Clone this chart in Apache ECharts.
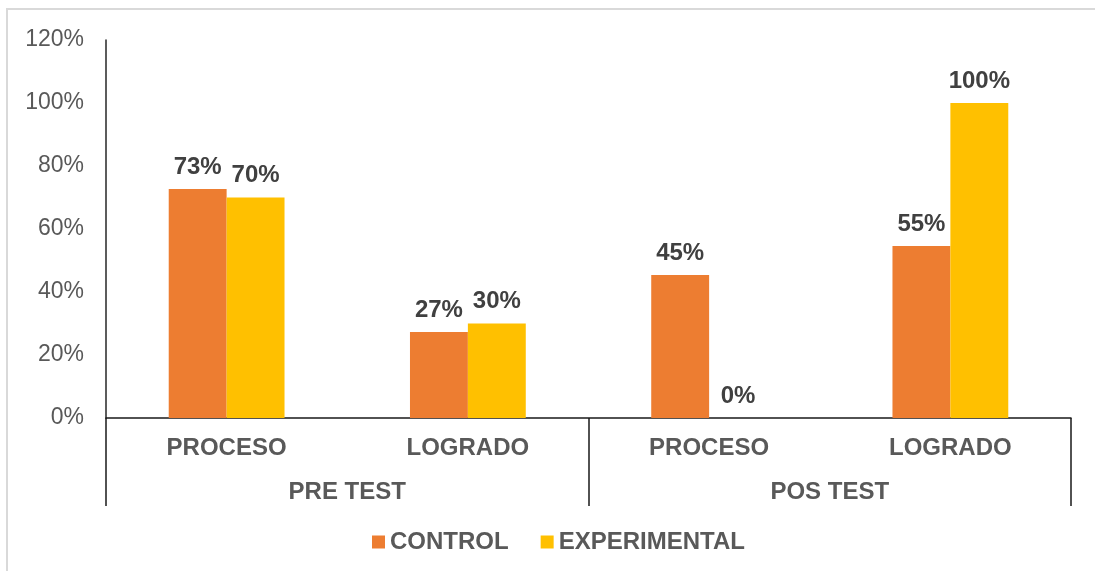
<html>
<head>
<meta charset="utf-8">
<script src="https://cdn.jsdelivr.net/npm/echarts@6/dist/echarts.min.js"></script>
</head>
<body style="margin:0">
<div id="chart" style="width:1095px;height:571px;"></div>
<script type="text/javascript">

// values (fractions)
var fases = ['PROCESO', 'LOGRADO', 'PROCESO', 'LOGRADO'];
var grupos = ['PRE TEST', 'POS TEST'];
var control = [0.727, 0.273, 0.454, 0.546];
var experimental = [0.70, 0.30, 0, 1.00];
var yTicks = [0, 0.2, 0.4, 0.6, 0.8, 1.0, 1.2];

var font = "'Liberation Sans', Arial, sans-serif";
var chart = echarts.init(document.getElementById('chart'));

function pct(v) {
  return Math.round(v * 100) + '%';
}

var barLabel = {
  show: true,
  position: 'top',
  distance: 10,
  color: '#404040',
  fontFamily: font,
  fontWeight: 'bold',
  fontSize: 24,
  formatter: function (p) { return pct(p.value); }
};

var option = {
  animation: false,
  graphic: [{
    type: 'rect',
    shape: { x: 7, y: 9, width: 1100, height: 580 },
    style: { fill: 'none', stroke: '#d9d9d9', lineWidth: 2 }
  }],
  grid: { left: 106, right: 24, top: 40, bottom: 153 },
  legend: {
    data: ['CONTROL', 'EXPERIMENTAL'],
    left: 372,
    top: 530,
    padding: 0,
    icon: 'rect',
    itemWidth: 13,
    itemHeight: 13,
    itemGap: 32,
    textStyle: { color: '#595959', fontFamily: font, fontWeight: 'bold', fontSize: 24 }
  },
  xAxis: [
    {
      type: 'category',
      data: fases,
      position: 'bottom',
      axisLine: { lineStyle: { color: '#1a1a1a', width: 1.5 } },
      axisTick: { show: false },
      axisLabel: { color: '#595959', fontFamily: font, fontWeight: 'bold', fontSize: 24, margin: 18, interval: 0 }
    },
    {
      type: 'category',
      data: grupos,
      position: 'bottom',
      axisLine: { show: false },
      axisTick: { show: true, length: 88, interval: 0, lineStyle: { color: '#1a1a1a', width: 1.5 } },
      axisLabel: { color: '#595959', fontFamily: font, fontWeight: 'bold', fontSize: 24, margin: 62, interval: 0 }
    }
  ],
  yAxis: {
    type: 'value',
    min: yTicks[0],
    max: yTicks[yTicks.length - 1],
    interval: 0.2,
    axisLine: { show: true, lineStyle: { color: '#262626', width: 1.5 } },
    axisTick: { show: false },
    splitLine: { show: false },
    axisLabel: { color: '#595959', fontFamily: font, fontSize: 23, margin: 22, formatter: pct }
  },
  series: [
    {
      name: 'CONTROL',
      type: 'bar',
      data: control,
      barGap: '0%',
      barCategoryGap: '52%',
      itemStyle: { color: '#ed7d31' },
      label: barLabel
    },
    {
      name: 'EXPERIMENTAL',
      type: 'bar',
      data: experimental,
      itemStyle: { color: '#ffc000' },
      label: barLabel
    }
  ]
};

option && chart.setOption(option);
</script>
</body>
</html>
